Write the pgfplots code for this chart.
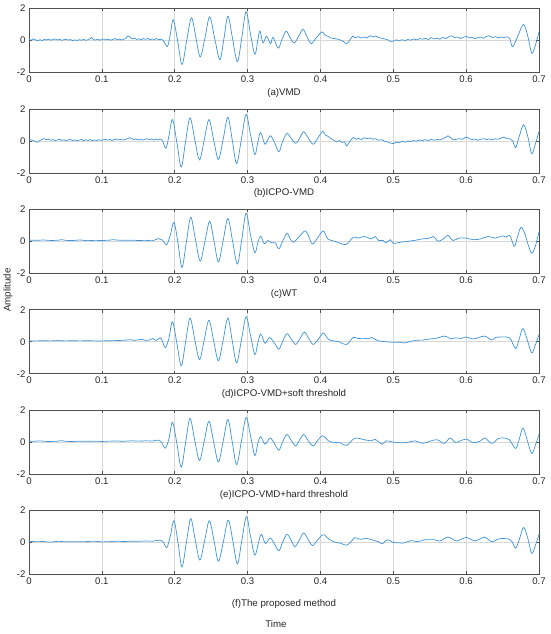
\documentclass[border=0pt]{standalone}
\usepackage{pgfplots}
\pgfplotsset{compat=1.18}
\usepackage{fontspec}
\setmainfont{Liberation Sans}
\definecolor{txt}{RGB}{38,38,38}
\definecolor{gridc}{RGB}{215,215,215}
\definecolor{axc}{RGB}{80,80,80}
\definecolor{sig}{RGB}{60,148,218}
\pgfplotsset{
 panel/.style={scale only axis, width=510pt, height=64pt, anchor=south west,
  xmin=0, xmax=0.7, ymin=-2, ymax=2,
  xtick={0,0.1,0.2,0.3,0.4,0.5,0.6,0.7}, ytick={-2,0,2},
  xmajorgrids, ymajorgrids, grid style={gridc, line width=0.6pt},
  axis line style={axc, line width=0.7pt}, tick style={axc, line width=0.7pt},
  major tick length=3pt,
  tick label style={font=\fontsize{9.6}{11}\selectfont, text=txt},
  /pgf/number format/assume math mode=true,
  xlabel style={font=\fontsize{9.7}{11}\selectfont, text=txt, at={(axis description cs:0.5,0)}, anchor=center, yshift=-20.5pt}},
 sigline/.style={sig, line width=0.7pt, smooth, tension=0.55, mark=none}
}
\begin{document}
\begin{tikzpicture}
\path[use as bounding box] (0,0) rectangle (550pt,634pt);
% (a) VMD
\begin{axis}[panel, at={(29pt,561.5pt)}, xlabel={(a)VMD}]
\addplot[sigline] table {
0.000 0.08
0.003 0.02
0.006 0.10
0.009 0.04
0.012 -0.02
0.015 0.05
0.018 0.00
0.021 0.07
0.024 0.03
0.027 0.09
0.030 0.02
0.033 0.06
0.036 0.10
0.039 0.03
0.042 0.07
0.045 0.01
0.048 0.05
0.051 0.08
0.054 0.02
0.057 0.06
0.060 -0.01
0.063 0.04
0.066 0.00
0.069 0.05
0.072 0.02
0.075 0.07
0.078 0.01
0.081 0.05
0.084 0.12
0.086 0.20
0.088 0.06
0.091 0.03
0.094 0.08
0.097 0.02
0.100 0.06
0.103 0.10
0.106 0.04
0.109 0.08
0.112 0.02
0.115 0.07
0.118 0.12
0.121 0.04
0.124 0.09
0.127 0.03
0.130 0.08
0.133 0.12
0.136 0.30
0.139 0.18
0.142 0.10
0.145 0.15
0.148 0.06
0.151 0.11
0.154 0.05
0.157 0.12
0.160 0.07
0.163 0.13
0.166 0.04
0.169 0.10
0.172 0.06
0.175 0.12
0.178 0.05
0.181 0.08
0.184 0.02
0.190 -0.37
0.194 0.40
0.198 1.30
0.204 0.00
0.210 -1.50
0.2165 0.00
0.223 1.42
0.229 0.20
0.235 -1.03
0.2415 0.15
0.248 1.48
0.255 0.10
0.262 -1.20
0.2675 0.10
0.273 1.52
0.2795 0.10
0.286 -1.33
0.292 0.15
0.298 1.80
0.304 0.40
0.310 -0.86
0.314 0.00
0.317 0.60
0.321 -0.15
0.326 0.26
0.3315 -0.20
0.335 0.20
0.342 -0.48
0.347 0.05
0.353 0.58
0.358 0.20
0.364 -0.15
0.370 0.25
0.376 0.70
0.381 0.30
0.387 -0.20
0.394 0.15
0.402 0.54
0.406 0.35
0.410 0.26
0.415 0.15
0.420 0.12
0.424 0.08
0.428 0.02
0.432 -0.08
0.436 -0.20
0.440 0.00
0.444 0.26
0.448 0.18
0.452 0.24
0.456 0.15
0.460 0.22
0.464 0.16
0.468 0.30
0.472 0.22
0.476 0.28
0.480 0.18
0.484 0.14
0.488 0.10
0.492 0.05
0.496 -0.06
0.500 -0.04
0.504 0.04
0.508 -0.02
0.512 0.05
0.516 0.00
0.520 0.06
0.524 0.02
0.528 0.10
0.532 0.04
0.536 0.12
0.540 0.08
0.544 0.14
0.548 0.06
0.552 0.18
0.556 0.10
0.560 0.14
0.564 0.08
0.568 0.20
0.572 0.12
0.576 0.24
0.580 0.30
0.584 0.18
0.588 0.22
0.592 0.12
0.596 0.20
0.600 0.26
0.604 0.16
0.608 0.20
0.612 0.10
0.616 0.18
0.620 0.22
0.624 0.14
0.628 0.26
0.632 0.30
0.636 0.18
0.640 0.24
0.644 0.16
0.648 0.22
0.652 0.18
0.656 0.24
0.660 0.10
0.664 -0.39
0.672 0.40
0.679 1.00
0.685 0.20
0.690 -0.80
0.695 -0.30
0.700 0.54
};
\end{axis}
% (b) ICPO-VMD
\begin{axis}[panel, at={(29pt,461.1pt)}, xlabel={(b)ICPO-VMD}]
\addplot[sigline] table {
0.000 0.10
0.003 0.06
0.006 0.02
0.009 -0.06
0.012 -0.08
0.015 0.02
0.018 0.10
0.021 0.14
0.024 0.08
0.027 0.12
0.030 0.04
0.033 0.08
0.036 0.02
0.039 0.06
0.042 0.10
0.045 0.03
0.048 0.07
0.051 0.01
0.054 0.06
0.057 0.09
0.060 0.02
0.063 0.06
0.066 0.00
0.069 0.05
0.072 0.09
0.075 0.02
0.078 0.07
0.081 0.03
0.084 0.08
0.087 0.01
0.090 0.06
0.093 0.02
0.096 0.08
0.099 0.03
0.102 0.07
0.105 0.10
0.108 0.05
0.111 0.09
0.114 0.03
0.117 0.08
0.120 0.12
0.123 0.06
0.126 0.10
0.129 0.05
0.132 0.09
0.135 0.13
0.138 0.20
0.141 0.14
0.144 0.08
0.147 0.12
0.150 0.06
0.153 0.11
0.156 0.05
0.159 0.10
0.162 0.14
0.165 0.07
0.168 0.11
0.171 0.05
0.174 0.10
0.177 0.06
0.180 0.12
0.183 0.04
0.188 -0.46
0.192 0.30
0.197 1.33
0.203 -0.10
0.209 -1.63
0.215 0.00
0.221 1.44
0.2275 0.10
0.234 -1.18
0.2405 0.05
0.247 1.33
0.2535 0.05
0.260 -1.16
0.2665 0.10
0.273 1.48
0.279 0.05
0.285 -1.42
0.2915 0.10
0.298 1.65
0.304 0.40
0.310 -0.85
0.314 -0.10
0.318 0.53
0.324 -0.21
0.331 0.32
0.337 -0.10
0.343 -0.68
0.348 -0.05
0.354 0.47
0.360 0.15
0.366 -0.15
0.372 0.20
0.377 0.57
0.383 0.20
0.390 -0.21
0.396 0.15
0.403 0.59
0.407 0.35
0.410 0.30
0.414 0.15
0.418 0.05
0.422 -0.05
0.426 0.02
0.430 -0.10
0.433 -0.05
0.436 -0.32
0.440 -0.05
0.445 0.21
0.449 0.10
0.452 0.16
0.456 0.08
0.460 0.20
0.464 0.14
0.468 0.18
0.472 0.10
0.476 0.14
0.480 0.04
0.484 0.08
0.488 -0.02
0.492 -0.06
0.496 -0.14
0.500 -0.17
0.504 -0.08
0.508 -0.12
0.512 -0.02
0.516 -0.08
0.520 0.00
0.524 -0.06
0.528 0.02
0.532 -0.02
0.536 0.06
0.540 0.02
0.544 0.08
0.548 0.02
0.552 0.10
0.556 0.04
0.560 0.10
0.564 0.06
0.568 0.14
0.572 0.22
0.575 0.32
0.579 0.18
0.583 0.06
0.587 0.10
0.591 0.14
0.595 0.10
0.600 0.25
0.604 0.14
0.608 0.08
0.612 0.12
0.616 0.04
0.620 0.10
0.624 0.14
0.628 0.08
0.632 0.12
0.636 0.06
0.640 0.14
0.644 0.10
0.648 0.18
0.652 0.24
0.656 0.14
0.660 0.14
0.664 0.00
0.668 -0.42
0.673 0.30
0.679 1.00
0.685 0.20
0.690 -0.80
0.695 -0.20
0.700 0.59
};
\end{axis}
% (c) WT
\begin{axis}[panel, at={(29pt,360.7pt)}, xlabel={(c)WT}]
\addplot[sigline] table {
0.000 0.08
0.010 0.06
0.020 0.08
0.030 0.05
0.040 0.07
0.045 0.10
0.050 0.06
0.060 0.05
0.070 0.08
0.080 0.04
0.090 0.06
0.100 0.05
0.110 0.07
0.115 0.10
0.120 0.08
0.130 0.06
0.140 0.07
0.150 0.05
0.160 0.06
0.170 0.04
0.1775 0.17
0.183 0.08
0.189 -0.21
0.194 0.40
0.199 1.18
0.2045 -0.10
0.210 -1.63
0.216 -0.05
0.222 1.50
0.2285 0.10
0.235 -1.23
0.2415 0.00
0.248 1.25
0.254 0.00
0.260 -1.29
0.2665 0.05
0.273 1.42
0.2795 0.00
0.286 -1.42
0.292 0.10
0.298 1.76
0.304 0.40
0.310 -0.71
0.314 -0.10
0.318 0.32
0.323 -0.15
0.328 0.05
0.333 -0.10
0.338 -0.10
0.343 -0.47
0.348 0.00
0.354 0.50
0.358 0.20
0.363 -0.06
0.371 0.30
0.379 0.65
0.384 0.30
0.389 -0.17
0.396 0.20
0.404 0.65
0.410 0.15
0.420 0.00
0.435 -0.20
0.445 0.26
0.452 0.20
0.460 0.30
0.470 0.15
0.475 0.30
0.480 0.05
0.486 0.05
0.490 -0.10
0.496 0.10
0.500 -0.13
0.510 -0.06
0.520 0.00
0.530 0.06
0.540 0.15
0.550 0.20
0.555 0.30
0.562 0.00
0.570 0.20
0.575 0.38
0.582 0.05
0.590 0.20
0.600 0.20
0.610 0.10
0.620 0.15
0.630 0.30
0.640 0.20
0.650 0.34
0.655 0.26
0.660 0.36
0.666 -0.32
0.670 0.20
0.675 0.86
0.680 0.55
0.685 -0.20
0.690 -0.75
0.695 -0.30
0.700 0.60
};
\end{axis}
% (d) soft threshold
\begin{axis}[panel, at={(29pt,260.3pt)}, xlabel={(d)ICPO-VMD+soft threshold}]
\addplot[sigline] table {
0.000 0.05
0.010 0.05
0.020 0.06
0.030 0.05
0.040 0.07
0.050 0.05
0.060 0.06
0.070 0.05
0.080 0.06
0.090 0.05
0.100 0.05
0.110 0.06
0.120 0.07
0.130 0.09
0.140 0.12
0.145 0.08
0.150 0.12
0.155 0.15
0.160 0.08
0.165 0.10
0.170 0.20
0.175 0.08
0.180 0.25
0.183 0.05
0.187 -0.37
0.192 0.20
0.197 1.25
0.203 -0.10
0.209 -1.50
0.215 0.00
0.221 1.47
0.2275 0.15
0.234 -1.12
0.2405 0.10
0.247 1.34
0.2535 0.05
0.260 -1.19
0.2665 0.10
0.273 1.47
0.279 0.05
0.285 -1.32
0.2915 0.10
0.298 1.56
0.304 0.40
0.310 -0.80
0.314 -0.10
0.318 0.48
0.324 -0.10
0.330 0.26
0.337 -0.10
0.343 -0.47
0.348 0.00
0.354 0.50
0.360 0.15
0.366 -0.17
0.372 0.20
0.378 0.60
0.384 0.20
0.390 -0.17
0.397 0.15
0.404 0.54
0.411 0.15
0.418 0.05
0.425 0.00
0.436 -0.17
0.445 0.26
0.452 0.20
0.460 0.22
0.466 0.18
0.470 0.26
0.480 0.05
0.490 0.00
0.500 -0.04
0.510 -0.04
0.515 -0.08
0.530 0.08
0.540 0.10
0.550 0.17
0.560 0.22
0.570 0.35
0.580 0.17
0.585 0.24
0.593 0.20
0.600 0.30
0.610 0.17
0.625 0.35
0.635 0.10
0.640 0.26
0.650 0.30
0.660 0.22
0.668 -0.43
0.673 0.20
0.678 0.82
0.684 0.10
0.690 -0.70
0.695 -0.20
0.700 0.43
};
\end{axis}
% (e) hard threshold
\begin{axis}[panel, at={(29pt,159.9pt)}, xlabel={(e)ICPO-VMD+hard threshold}]
\addplot[sigline] table {
0.000 0.05
0.010 0.06
0.015 0.08
0.020 0.05
0.030 0.04
0.040 0.06
0.045 0.09
0.050 0.05
0.060 0.04
0.070 0.06
0.080 0.05
0.090 0.06
0.100 0.04
0.110 0.06
0.120 0.07
0.130 0.05
0.140 0.08
0.150 0.06
0.160 0.08
0.170 0.07
0.175 0.12
0.181 0.05
0.187 -0.38
0.192 0.20
0.197 1.24
0.203 -0.10
0.209 -1.56
0.215 0.00
0.221 1.48
0.2275 0.10
0.234 -1.15
0.2405 0.05
0.247 1.30
0.2535 0.00
0.260 -1.24
0.2665 0.05
0.273 1.41
0.279 0.00
0.285 -1.41
0.2915 0.05
0.298 1.54
0.304 0.40
0.310 -0.84
0.314 -0.10
0.318 0.34
0.324 -0.13
0.331 0.26
0.337 -0.10
0.343 -0.51
0.348 0.00
0.354 0.47
0.360 0.10
0.366 -0.24
0.371 0.10
0.377 0.47
0.383 0.10
0.390 -0.24
0.396 0.10
0.403 0.39
0.412 0.05
0.420 -0.02
0.428 -0.05
0.436 -0.21
0.447 0.24
0.460 0.15
0.470 0.08
0.475 0.17
0.485 -0.13
0.490 0.08
0.500 0.00
0.510 -0.04
0.520 -0.02
0.530 0.08
0.540 -0.08
0.550 0.05
0.560 0.15
0.570 -0.08
0.578 0.26
0.585 -0.02
0.590 0.04
0.600 0.19
0.610 -0.04
0.620 0.08
0.626 0.26
0.635 -0.08
0.645 0.24
0.655 0.24
0.660 0.12
0.668 -0.40
0.673 0.20
0.678 0.88
0.684 0.10
0.690 -0.71
0.695 -0.20
0.700 0.47
};
\end{axis}
% (f) proposed
\begin{axis}[panel, at={(29pt,59.5pt)}, xlabel={(f)The proposed method}, xlabel style={yshift=-9pt}]
\addplot[sigline] table {
0.000 0.08
0.010 0.05
0.020 0.06
0.030 0.02
0.040 0.08
0.050 0.04
0.060 0.05
0.070 0.04
0.080 0.06
0.090 0.08
0.100 0.04
0.110 0.05
0.120 0.08
0.130 0.06
0.140 0.08
0.150 0.07
0.160 0.10
0.170 0.08
0.178 0.15
0.184 0.05
0.189 -0.32
0.194 0.40
0.199 1.36
0.2045 0.00
0.210 -1.53
0.216 0.00
0.222 1.49
0.228 0.20
0.2345 -1.10
0.241 0.10
0.2475 1.36
0.254 0.10
0.260 -1.17
0.267 0.10
0.2735 1.40
0.280 0.05
0.286 -1.34
0.292 0.10
0.2985 1.62
0.304 0.40
0.310 -0.79
0.315 0.00
0.319 0.51
0.3245 -0.06
0.331 0.28
0.337 -0.10
0.343 -0.51
0.348 0.00
0.354 0.51
0.360 0.12
0.365 -0.26
0.371 0.15
0.377 0.60
0.383 0.20
0.389 -0.19
0.396 0.15
0.404 0.49
0.412 0.20
0.420 0.02
0.428 -0.05
0.436 -0.17
0.442 0.05
0.447 0.30
0.452 0.22
0.456 0.20
0.463 0.26
0.469 0.20
0.475 0.10
0.480 0.05
0.485 -0.08
0.492 0.17
0.500 0.00
0.507 -0.02
0.514 -0.04
0.524 0.12
0.533 0.05
0.543 0.17
0.550 0.18
0.557 0.17
0.564 0.09
0.575 0.34
0.586 0.10
0.593 0.20
0.600 0.32
0.606 0.20
0.612 0.10
0.618 0.20
0.625 0.34
0.630 0.20
0.636 0.04
0.644 0.22
0.652 0.25
0.658 0.22
0.663 0.05
0.668 -0.36
0.673 0.20
0.679 0.94
0.685 0.20
0.690 -0.68
0.695 -0.20
0.700 0.51
};
\end{axis}
\node[font=\fontsize{9.7}{11}\selectfont, text=txt] at (276pt,10pt) {Time};
\node[font=\fontsize{9.7}{11}\selectfont, text=txt, rotate=90] at (8pt,344pt) {Amplitude};
\end{tikzpicture}
\end{document}
